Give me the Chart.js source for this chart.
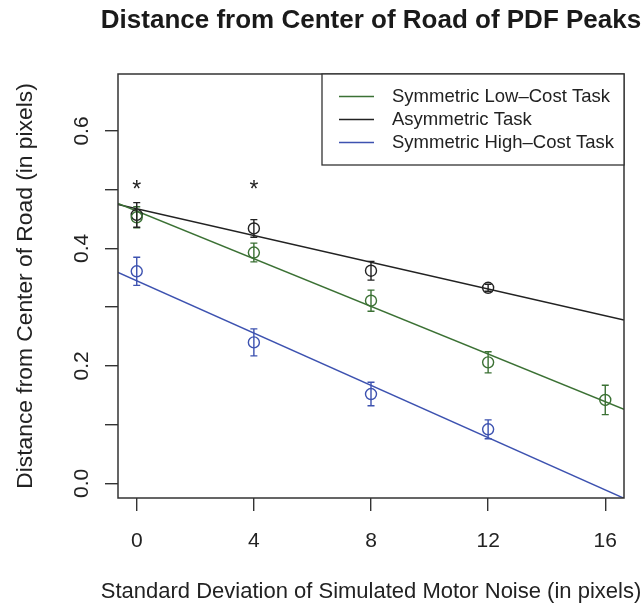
<!DOCTYPE html>
<html>
<head>
<meta charset="utf-8">
<style>
  body {
    margin: 0;
    background: #ffffff;
  }
  .chart_box {
    width: 644px;
    height: 607px;
  }
</style>
</head>
<body>
<div class="chart_box"><canvas id="peakChart" width="644" height="607"></canvas></div>
<script src="https://cdn.jsdelivr.net/npm/chart.js"></script>
<script>
  // values
  const noiseLevels = [0, 4, 8, 12, 16];
  const taskNames = ["Symmetric Low\u2013Cost Task", "Asymmetric Task", "Symmetric High\u2013Cost Task"];
  const taskColors = ["#3b7134", "#222222", "#3d52b0"];

  const lowCostPeaks = [0.453, 0.393, 0.311, 0.206, 0.142];
  const lowCostErrors = [0.018, 0.016, 0.018, 0.018, 0.025];
  const asymPeaks = [0.457, 0.434, 0.362, 0.333];
  const asymErrors = [0.021, 0.015, 0.016, 0.006];
  const highCostPeaks = [0.361, 0.240, 0.152, 0.092];
  const highCostErrors = [0.024, 0.023, 0.020, 0.016];

  // fitted lines: intercept and slope per task
  const fitIntercepts = [0.4634, 0.4677, 0.3448];
  const fitSlopes = [-0.02028, -0.0114, -0.02225];

  // significance stars
  const starNoise = [0, 4];
  const starLevel = 0.488;

  const xTicks = [0, 4, 8, 12, 16];
  const yTicks = [0, 0.1, 0.2, 0.3, 0.4, 0.5, 0.6];
  const yTickLabels = ["0.0", "", "0.2", "", "0.4", "", "0.6"];
  const xMin = -0.64, xMax = 16.64;
  const yMin = -0.025, yMax = 0.697;

  const FONT = '"Liberation Sans", Arial, Helvetica, sans-serif';
  const INK = "#333333";

  const peaks = [lowCostPeaks, asymPeaks, highCostPeaks];
  const errors = [lowCostErrors, asymErrors, highCostErrors];

  const pointSets = peaks.map((vals, i) => ({
    label: taskNames[i] + " points",
    data: vals.map((v, j) => ({ x: noiseLevels[j], y: v })),
    errs: errors[i],
    borderColor: taskColors[i],
    backgroundColor: "rgba(0,0,0,0)",
    pointRadius: 5.5,
    pointBorderWidth: 1.4,
    showLine: false,
  }));

  const fitSets = fitIntercepts.map((b, i) => ({
    label: taskNames[i],
    data: [
      { x: xMin, y: b + fitSlopes[i] * xMin },
      { x: xMax, y: b + fitSlopes[i] * xMax },
    ],
    borderColor: taskColors[i],
    borderWidth: 1.5,
    pointRadius: 0,
    showLine: true,
    isFit: true,
  }));

  // error bars with caps
  const errorBars = {
    id: "errorBars",
    afterDatasetsDraw(chart) {
      const { ctx, scales } = chart;
      ctx.save();
      ctx.lineWidth = 1.4;
      chart.data.datasets.forEach((ds) => {
        if (!ds.errs) return;
        ctx.strokeStyle = ds.borderColor;
        ds.data.forEach((p, j) => {
          const x = scales.x.getPixelForValue(p.x);
          const top = scales.y.getPixelForValue(p.y + ds.errs[j]);
          const bot = scales.y.getPixelForValue(p.y - ds.errs[j]);
          ctx.beginPath();
          ctx.moveTo(x, top);
          ctx.lineTo(x, bot);
          ctx.moveTo(x - 3.5, top);
          ctx.lineTo(x + 3.5, top);
          ctx.moveTo(x - 3.5, bot);
          ctx.lineTo(x + 3.5, bot);
          ctx.stroke();
        });
      });
      ctx.restore();
    },
  };

  // box, titles, rotated y labels, stars, legend
  const decorations = {
    id: "decorations",
    afterDraw(chart) {
      const { ctx, chartArea: a, scales } = chart;
      const midX = (a.left + a.right) / 2;
      ctx.save();

      ctx.strokeStyle = INK;
      ctx.lineWidth = 1.5;
      ctx.strokeRect(a.left, a.top, a.right - a.left, a.bottom - a.top);

      ctx.fillStyle = "#1a1a1a";
      ctx.font = "bold 26px " + FONT;
      ctx.textAlign = "center";
      ctx.textBaseline = "alphabetic";
      ctx.fillText("Distance from Center of Road of PDF Peaks", midX, 28);

      // x label is wider than the plot, so it is drawn here
      ctx.fillStyle = "#222222";
      ctx.font = "22px " + FONT;
      ctx.textBaseline = "middle";
      ctx.fillText("Standard Deviation of Simulated Motor Noise (in pixels)", midX, 592);

      ctx.font = "21px " + FONT;
      yTicks.forEach((v, i) => {
        if (!yTickLabels[i]) return;
        ctx.save();
        ctx.translate(82, scales.y.getPixelForValue(v));
        ctx.rotate(-Math.PI / 2);
        ctx.fillText(yTickLabels[i], 0, 0);
        ctx.restore();
      });

      ctx.font = "23px " + FONT;
      ctx.textBaseline = "alphabetic";
      starNoise.forEach((n) => {
        ctx.fillText("*", scales.x.getPixelForValue(n), scales.y.getPixelForValue(starLevel));
      });

      const fits = chart.data.datasets.filter((d) => d.isFit);
      const boxLeft = 322;
      ctx.lineWidth = 1.3;
      ctx.strokeStyle = INK;
      ctx.fillStyle = "#ffffff";
      ctx.fillRect(boxLeft, a.top, a.right - boxLeft, 91);
      ctx.strokeRect(boxLeft, a.top, a.right - boxLeft, 91);
      ctx.font = "18.5px " + FONT;
      ctx.textAlign = "left";
      ctx.textBaseline = "middle";
      fits.forEach((d, i) => {
        const y = a.top + 22.5 + i * 23;
        ctx.strokeStyle = d.borderColor;
        ctx.lineWidth = 1.5;
        ctx.beginPath();
        ctx.moveTo(339, y);
        ctx.lineTo(374, y);
        ctx.stroke();
        ctx.fillStyle = "#222222";
        ctx.fillText(d.label, 392, y);
      });

      ctx.restore();
    },
  };

  Chart.defaults.font.family = FONT;
  Chart.defaults.color = "#222222";

  new Chart(document.getElementById("peakChart"), {
    type: "scatter",
    data: { datasets: [...pointSets, ...fitSets] },
    options: {
      responsive: false,
      animation: false,
      devicePixelRatio: 1,
      layout: { padding: { top: 74, right: 20, left: 0, bottom: 0 } },
      plugins: {
        legend: { display: false },
        title: { display: false },
        tooltip: { enabled: false },
      },
      scales: {
        x: {
          type: "linear",
          min: xMin,
          max: xMax,
          afterBuildTicks: (s) => { s.ticks = xTicks.map((v) => ({ value: v })); },
          afterFit: (s) => { s.height = 109; },
          ticks: { font: { size: 21 }, padding: 18, color: "#222222" },
          grid: { drawOnChartArea: false, drawTicks: true, tickLength: 13, color: INK, lineWidth: 1.4 },
          border: { display: false },
          title: { display: false },
        },
        y: {
          type: "linear",
          min: yMin,
          max: yMax,
          afterBuildTicks: (s) => { s.ticks = yTicks.map((v) => ({ value: v })); },
          afterFit: (s) => { s.width = 118; },
          ticks: { display: false },
          grid: { drawOnChartArea: false, drawTicks: true, tickLength: 13, color: INK, lineWidth: 1.4 },
          border: { display: false },
          title: {
            display: true,
            text: "Distance from Center of Road (in pixels)",
            font: { size: 22.8 },
            color: "#222222",
            padding: { top: 12, bottom: 0 },
          },
        },
      },
    },
    plugins: [errorBars, decorations],
  });
</script>
</body>
</html>
